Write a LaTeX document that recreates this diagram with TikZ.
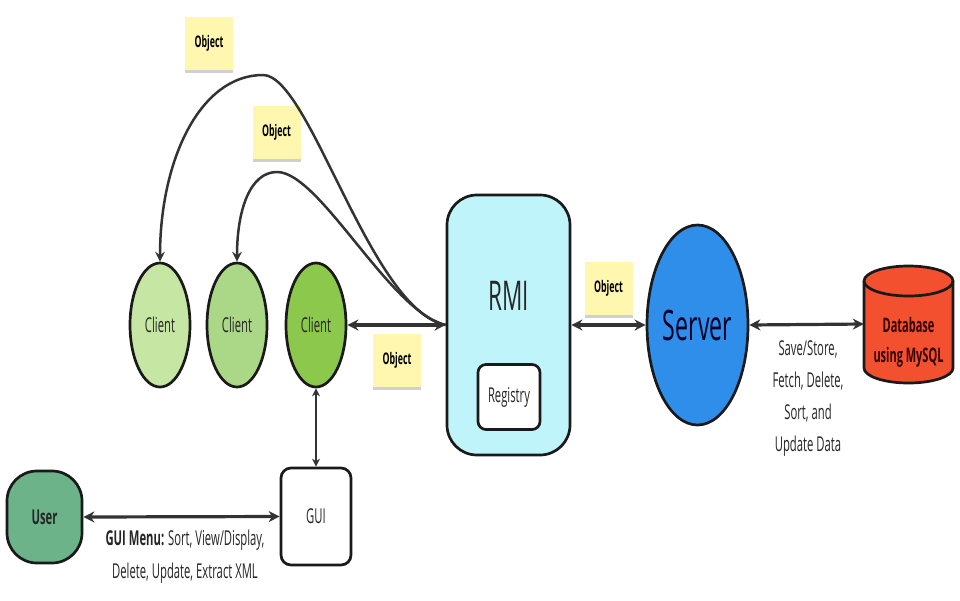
\documentclass[tikz,border=0pt]{standalone}
\usepackage{fontspec}
\setmainfont[FakeStretch=0.55]{Open Sans}
\usetikzlibrary{arrows.meta,shapes.geometric,shadows}
\definecolor{outl}{HTML}{1A1A1A}
\definecolor{linec}{HTML}{333333}
\definecolor{stickyfill}{HTML}{FFF6B0}
\definecolor{cOne}{HTML}{C6E6A4}
\definecolor{cTwo}{HTML}{ABD886}
\definecolor{cThree}{HTML}{8CC84B}
\definecolor{rmifill}{HTML}{BFF5FA}
\definecolor{serverfill}{HTML}{2E8EEA}
\definecolor{dbfill}{HTML}{F2502E}
\definecolor{userfill}{HTML}{6CB38A}
\definecolor{txt}{HTML}{262626}
\begin{document}
\begin{tikzpicture}[x=1pt,y=-1pt,
  shapeline/.style={draw=outl, line width=2.7pt},
  client/.style={ellipse, shapeline, minimum width=60pt, minimum height=124pt, inner sep=0pt,
     font=\fontsize{20.5}{24}\selectfont, text=txt},
  sticky/.style={fill=stickyfill, minimum width=48pt, minimum height=53pt, inner sep=0pt,
     font=\bfseries\fontsize{16}{18}\selectfont, text=black,
     drop shadow={shadow xshift=0pt, shadow yshift=-3pt, opacity=0.3, fill=black!60}},
  link/.style={draw=linec, line width=3.2pt, {Stealth[length=11pt,width=11pt,inset=3.5pt]}-{Stealth[length=11pt,width=11pt,inset=3.5pt]}},
  curve/.style={draw=linec, line width=2.5pt, -{Stealth[length=10pt,width=10pt,inset=3.5pt]}},
  lbl/.style={font=\fontsize{20.5}{32}\selectfont, text=txt, align=center}
]
\useasboundingbox (0,0) rectangle (960,600);
\fill[white] (0,0) rectangle (960,600);

% sticky notes
\node[sticky] (o1) at (209,43.5) {Object};
\node[sticky] (o2) at (276.5,132.5) {Object};
\node[sticky] (o3) at (397,360) {Object};
\node[sticky] (o4) at (608.5,288.5) {Object};

% clients
\node[client, fill=cOne] (c1) at (160,325) {Client};
\node[client, fill=cTwo] (c2) at (237,325) {Client};
\node[client, fill=cThree] (c3) at (316,325) {Client};

% RMI
\node[shapeline, fill=rmifill, rounded corners=30pt, minimum width=123pt, minimum height=260pt, inner sep=0pt] (rmi) at (508.5,325) {};
\node[font=\fontsize{41}{44}\selectfont, text=txt] (rmilabel) at (508.5,296) {RMI};
\node[shapeline, fill=white, rounded corners=8pt, minimum width=62pt, minimum height=65pt, inner sep=0pt,
      font=\fontsize{20.5}{24}\selectfont, text=txt] (reg) at (509,397) {Registry};

% Server
\node[ellipse, shapeline, fill=serverfill, minimum width=101pt, minimum height=200pt, inner sep=0pt,
      font=\fontsize{42}{44}\selectfont, text=black!85!blue] (server) at (697.5,325) {Server};

% Database cylinder
\fill[dbfill] (864,281) -- (864,368) arc (180:360:44.5pt and 15pt) -- (953,281) arc (0:180:44.5pt and 15pt) -- cycle;
\draw[shapeline] (864,281) -- (864,368) arc (180:360:44.5pt and 15pt) -- (953,281);
\draw[shapeline] (908.5,281) ellipse (44.5pt and 15pt);
\node[minimum width=89pt, minimum height=118pt, inner sep=0pt] (db) at (908.5,324) {};
\node[font=\bfseries\fontsize{20}{30}\selectfont, text=black!80!red, align=center] (dblabel) at (908.5,342) {Database\\using MySQL};

% GUI and user
\node[shapeline, fill=white, rounded corners=10pt, minimum width=70pt, minimum height=97pt, inner sep=0pt,
      font=\fontsize{20.5}{24}\selectfont, text=txt] (gui) at (316,516.5) {GUI};
\node[shapeline, fill=userfill, rounded corners=30pt, minimum width=75pt, minimum height=92pt, inner sep=0pt,
      font=\bfseries\fontsize{20.5}{24}\selectfont, text=black!85] (user) at (44.5,517) {User};

% connectors
\draw[link] (c3.east) -- (rmi.west);
\draw[link] (rmi.east) -- (server.west);
\draw[link] (server.east) -- (db.west);
\draw[link] (user.east) -- (gui.west);
\draw[draw=linec, line width=2.2pt, {Stealth[length=8pt,width=8pt,inset=2.5pt]}-{Stealth[length=8pt,width=8pt,inset=2.5pt]}] (c3.south) -- (gui.north);

\draw[curve] (rmi.west) .. controls (370,310) and (310,75) .. (263,75) .. controls (200,75) and (160,160) .. (c1.north);
\draw[curve] (rmi.west) .. controls (390,312) and (320,172) .. (277,172) .. controls (250,172) and (237,210) .. (c2.north);

% labels
\node[lbl] (dbops) at (808,399) {Save/Store,\\Fetch, Delete,\\Sort, and\\Update Data};
\node[lbl, font=\fontsize{20.5}{33}\selectfont] (guimenu) at (185,557) {\textbf{GUI Menu:} Sort, View/Display,\\Delete, Update, Extract XML};
\end{tikzpicture}
\end{document}
